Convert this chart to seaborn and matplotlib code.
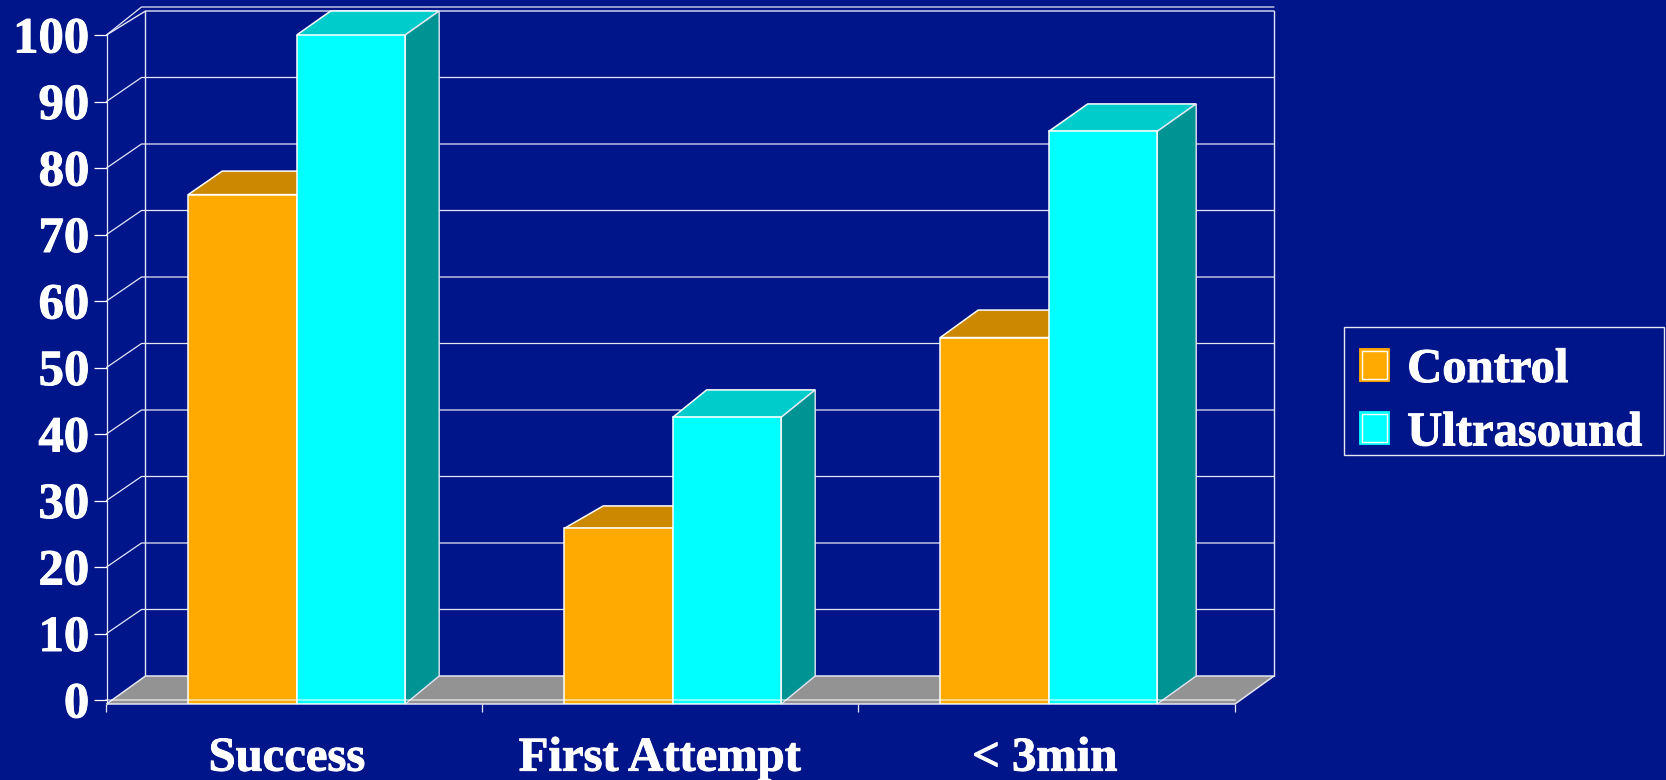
import matplotlib
matplotlib.use("Agg")
import matplotlib.pyplot as plt
import matplotlib.patheffects as pe
from matplotlib.patches import Patch, Polygon, Rectangle
import pandas as pd
import seaborn as sns

# Chart values
categories = ["Success", "First Attempt", "< 3min"]
series_names = ["Control", "Ultrasound"]
control_values = [76, 25.8, 54.5]
ultrasound_values = [100, 42.5, 85.5]
y_ticks = [0, 10, 20, 30, 40, 50, 60, 70, 80, 90, 100]

# Palette
BG = "#01158A"
LINE = "#E4E6F4"
FACE = {"Control": "#FFAA00", "Ultrasound": "#00FFFF"}
TOP = {"Control": "#CC8800", "Ultrasound": "#00CCCC"}
SIDE = {"Control": "#CC8800", "Ultrasound": "#009393"}
FLOOR = "#939393"

# Extrusion depth of each bar, in pixels (series, then category)
DEPTH_DX = {"Control": [34, 39, 38], "Ultrasound": [34, 34, 39]}
DEPTH_DY = {"Control": [23.5, 22.5, 27.5], "Ultrasound": [24, 27.5, 27.5]}

# Horizontal nudge of the category labels, in category widths
LABEL_SHIFT = [-0.026, -0.0345, -0.0105]

W, H = 1666, 780
sns.set_theme(style="white")
plt.rcParams["font.family"] = ["Liberation Serif", "DejaVu Serif"]
plt.rcParams["font.weight"] = "bold"

fig = plt.figure(figsize=(W / 100, H / 100), dpi=100, facecolor=BG)

# Plot frame, in pixels measured from the top left corner
left, right, bottom, top = 106.5, 1234.6, 704.0, 35.0
ax = fig.add_axes([left / W, 1 - bottom / H, (right - left) / W, (bottom - top) / H])
ax.set_facecolor("none")

px_per_cat = 376.0
px_per_unit = 6.65
first_center = 296.7
xmin = -(first_center - left) / px_per_cat
ax_xlim = (xmin, xmin + (right - left) / px_per_cat)
ax_ylim = (-(bottom - 700.0) / px_per_unit, 100.0)

# Depth of the walls, in data units
wall_dx, wall_dy = 39.0 / px_per_cat, 28.0 / px_per_unit
bar_base_dy = 28.0 / px_per_unit
grid_dx, grid_dy = 35.0 / px_per_cat, 24.0 / px_per_unit
wall_right = xmin + (1274.0 - left) / px_per_cat
floor_y = ax_ylim[0]

df = pd.DataFrame({
    "category": categories * 2,
    "series": [series_names[0]] * 3 + [series_names[1]] * 3,
    "value": control_values + ultrasound_values,
})

sns.barplot(
    data=df, x="category", y="value", hue="series", hue_order=series_names,
    palette=FACE, width=2 * 108.5 / px_per_cat, gap=0, dodge=True,
    saturation=1, legend=False, ax=ax, zorder=5,
    edgecolor="white", linewidth=1.1,
)
ax.set_xlim(ax_xlim)
ax.set_ylim(ax_ylim)
ax.set_xlabel("")
ax.set_ylabel("")

# Back wall and floor
back_left = xmin + wall_dx
ax.add_patch(Polygon(
    [(xmin, floor_y), (back_left, floor_y + wall_dy),
     (wall_right, floor_y + wall_dy), (wall_right - wall_dx, floor_y)],
    closed=True, facecolor=FLOOR, edgecolor=LINE, linewidth=1.1,
    clip_on=False, zorder=2,
))
wall_top = 100 + (35.0 - 11.0) / px_per_unit
ax.plot([back_left, back_left], [floor_y + wall_dy, wall_top],
        color=LINE, lw=1.0, clip_on=False, zorder=1)
ax.plot([wall_right, wall_right], [floor_y + wall_dy, wall_top],
        color=LINE, lw=1.0, clip_on=False, zorder=1)
ax.plot([xmin, back_left, wall_right], [100, wall_top, wall_top],
        color=LINE, lw=1.0, clip_on=False, zorder=1)

# Gridlines: a diagonal across the side wall, then along the back wall
for value in y_ticks[1:]:
    ax.plot([xmin, xmin + grid_dx, wall_right],
            [value, value + grid_dy + (4 / px_per_unit if value == 100 else 0),
             value + grid_dy + (4 / px_per_unit if value == 100 else 0)],
            color=LINE, lw=0.9, clip_on=False, zorder=1)

# Side and top faces, derived from the front rectangles that seaborn drew
n = len(categories)
for i, rect in enumerate(ax.patches[:2 * n]):
    name = series_names[i // n]
    dx = DEPTH_DX[name][i % n] / px_per_cat
    dy = DEPTH_DY[name][i % n] / px_per_unit
    x0, x1 = rect.get_x(), rect.get_x() + rect.get_width()
    y1 = rect.get_height()
    # front faces run down to the front edge of the floor
    rect.set_y(floor_y)
    rect.set_height(y1 - floor_y)
    ax.add_patch(Polygon(
        [(x0, y1), (x0 + dx, y1 + dy), (x1 + dx, y1 + dy), (x1, y1)],
        closed=True, facecolor=TOP[name], edgecolor="white", linewidth=1.1,
        clip_on=False, zorder=4 if name == "Ultrasound" else 3,
    ))
    ax.add_patch(Polygon(
        [(x1, floor_y), (x1 + dx, floor_y + bar_base_dy),
         (x1 + dx, y1 + dy), (x1, y1)],
        closed=True, facecolor=SIDE[name], edgecolor=LINE, linewidth=1.0,
        clip_on=False, zorder=4 if name == "Ultrasound" else 3,
    ))

# Zero line lying slightly above the front edge of the floor
ax.plot(ax_xlim, [0, 0], color="white", alpha=0.55, lw=1.4, zorder=6, clip_on=False)

# Axes furniture
for side in ("top", "right", "bottom"):
    ax.spines[side].set_visible(False)
ax.spines["left"].set_color(LINE)
ax.spines["left"].set_linewidth(0.9)

heavier = [pe.withStroke(linewidth=0.7, foreground="white")]

ax.set_yticks(y_ticks, [str(v) for v in y_ticks])
ax.tick_params(axis="y", colors="white", length=9.4, width=0.9, pad=3,
               labelsize=36.5, left=True)
group_edges = [xmin + k for k in range(n + 1)]
ax.set_xticks(group_edges, minor=True)
ax.tick_params(axis="x", which="minor", colors=LINE, length=6, width=0.9,
               bottom=True, direction="out")
ax.set_xticks([k + LABEL_SHIFT[k] for k in range(n)], categories)
ax.tick_params(axis="x", which="major", colors="white", length=0, pad=23.5,
               labelsize=35)
for lab in ax.get_xticklabels() + ax.get_yticklabels():
    lab.set_fontweight("bold")
    lab.set_path_effects(heavier)

# Legend frame, then the swatches (white frame inset in a coloured square)
fig.add_artist(Rectangle(
    (1344.4 / W, 1 - 454.8 / H), 319.6 / W, 127.5 / H,
    transform=fig.transFigure, facecolor=BG, edgecolor=LINE, linewidth=1.0,
))
handles = [
    Patch(facecolor=FACE[s], edgecolor="white", linewidth=1.0, label=s,
          path_effects=[pe.withStroke(linewidth=4.2, foreground=FACE[s])])
    for s in series_names
]
legend = fig.legend(
    handles=handles, loc="lower left",
    bbox_to_anchor=(1362 / W, 1 - 455.5 / H), borderaxespad=0,
    frameon=False, borderpad=0,
    handlelength=0.51, handleheight=0.5, handletextpad=0.42,
    labelspacing=0.40, labelcolor="white",
    prop={"family": "Liberation Serif", "weight": "bold", "size": 35},
)
for text in legend.get_texts():
    text.set_path_effects(heavier)

fig.savefig("out.png", dpi=100, facecolor=BG)
